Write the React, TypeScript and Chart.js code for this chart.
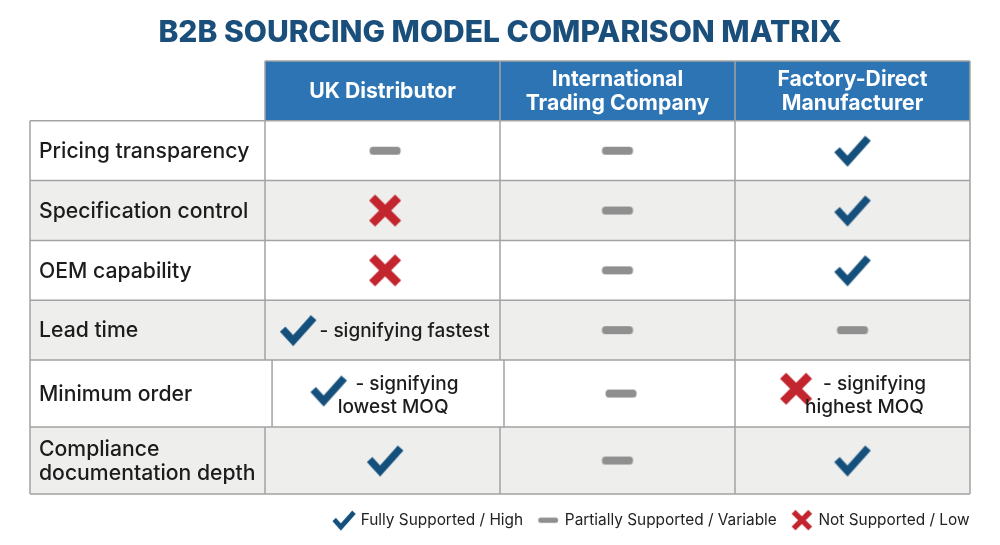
import React, { useEffect, useRef } from "react";
import { Chart, registerables } from "chart.js";

Chart.register(...registerables);

const chartTitle = "B2B SOURCING MODEL COMPARISON MATRIX";
const criteria = [
    ["Pricing transparency"],
    ["Specification control"],
    ["OEM capability"],
    ["Lead time"],
    ["Minimum order"],
    ["Compliance", "documentation depth"],
];
const suppliers = [
    ["UK Distributor"],
    ["International", "Trading Company"],
    ["Factory-Direct", "Manufacturer"],
];

const ukDistributor = ["partial", "no", "no", "yes", "yes", "yes"];
const tradingCompany = ["partial", "partial", "partial", "partial", "partial", "partial"];
const factoryDirect = ["yes", "yes", "yes", "partial", "no", "yes"];
const ratingsBySupplier = [ukDistributor, tradingCompany, factoryDirect];

const ratingKeys = ["yes", "partial", "no"];
const ratingLabels = ["Fully Supported / High", "Partially Supported / Variable", "Not Supported / Low"];

// notes that sit next to a mark: [supplier, criterion, line, text]
const cellNotes: [number, number, number, string][] = [
    [0, 3, 0, "- signifying fastest"],
    [0, 4, 0, "- signifying"],
    [0, 4, 1, "lowest MOQ"],
    [2, 4, 0, "- signifying"],
    [2, 4, 1, "highest MOQ"],
];

// ---- layout, in table units (x: 1 = one column, y: 1 = one row)
const rowEdges = [0, 1, 2, 3, 4, 5, 6.12, 7.24];
const colEdges = [0, 1, 2, 3, 4];
const minOrderColEdges = [0, 1.03, 2.017, 3, 4];
const columnShift = [0.011, 0, 0];
const markNudge: Record<string, [number, number]> = {
    "0-3": [-0.37, 0],
    "0-4": [-0.24, -0.05],
    "1-4": [0.015, 0],
    "2-4": [-0.24, -0.08],
};
const noteCentres: Record<string, number> = {
    "0-3-0": 1.594,
    "0-4-0": 1.604,
    "0-4-1": 1.545,
    "2-4-0": 3.594,
    "2-4-1": 3.551,
};
// legend keeps a trailing gap, so the plot area is wider than the table by this much
const legendGap = 16;
const sideOverhang = legendGap / 235;

const BLUE = "#2c74b3";
const NAVY = "#15507c";
const RED = "#c3252f";
const GREY = "#8f8f8f";
const LINE = "#a3a3a3";
const FONT = "Inter, sans-serif";

function makeIcon(kind: string, scale: number) {
    const size = 44 * scale;
    const c = document.createElement("canvas");
    c.width = size;
    c.height = size;
    const g = c.getContext("2d")!;
    g.translate(size / 2, size / 2);
    g.scale(scale, scale);
    if (kind === "yes") {
        g.strokeStyle = NAVY;
        g.lineWidth = 7.5;
        g.lineJoin = "miter";
        g.beginPath();
        g.moveTo(-15.5, -1);
        g.lineTo(-5, 10.5);
        g.lineTo(15.5, -12.5);
        g.stroke();
    } else if (kind === "no") {
        g.strokeStyle = RED;
        g.lineWidth = 8.5;
        g.beginPath();
        g.moveTo(-13, -13);
        g.lineTo(13, 13);
        g.moveTo(13, -13);
        g.lineTo(-13, 13);
        g.stroke();
    } else {
        g.fillStyle = GREY;
        g.beginPath();
        g.roundRect(-15.5, -4, 31, 8, 3.5);
        g.fill();
    }
    return c;
}

const tablePlugin = {
    id: "sourcingTable",
    afterLayout(chart: any) {
        // rounding in the legend can push the last item onto a second row
        chart.legend.lineWidths[0] += 0.5;
        chart.legend.top += 2.4;
    },
    beforeDatasetsDraw(chart: any) {
        const { ctx, scales } = chart;
        const X = (v: number) => scales.x.getPixelForValue(v);
        const Y = (v: number) => scales.y.getPixelForValue(v);
        ctx.save();
        // header band, first column has none
        ctx.fillStyle = BLUE;
        ctx.fillRect(X(1), Y(0), X(4) - X(1), Y(1) - Y(0));
        // body rows
        criteria.forEach((_, i) => {
            ctx.fillStyle = i % 2 ? "#eeeeed" : "#ffffff";
            ctx.fillRect(X(0), Y(rowEdges[i + 1]), X(4) - X(0), Y(rowEdges[i + 2]) - Y(rowEdges[i + 1]));
        });
        ctx.strokeStyle = LINE;
        ctx.lineWidth = 1.5;
        ctx.beginPath();
        rowEdges.forEach((r, i) => {
            ctx.moveTo(X(i === 0 ? 1 : 0), Y(r));
            ctx.lineTo(X(4), Y(r));
        });
        colEdges.forEach((c, i) => {
            if (i === 0) {
                ctx.moveTo(X(c), Y(1));
                ctx.lineTo(X(c), Y(rowEdges[7]));
                return;
            }
            // the minimum order row has its own column edges
            ctx.moveTo(X(c), Y(0));
            ctx.lineTo(X(c), Y(rowEdges[5]));
            ctx.moveTo(X(minOrderColEdges[i]), Y(rowEdges[5]));
            ctx.lineTo(X(minOrderColEdges[i]), Y(rowEdges[6]));
            ctx.moveTo(X(c), Y(rowEdges[6]));
            ctx.lineTo(X(c), Y(rowEdges[7]));
        });
        ctx.stroke();
        ctx.restore();
    },
    afterDatasetsDraw(chart: any) {
        const { ctx, scales } = chart;
        const X = (v: number) => scales.x.getPixelForValue(v);
        const Y = (v: number) => scales.y.getPixelForValue(v);
        ctx.save();
        ctx.textBaseline = "middle";

        // column headers
        ctx.textAlign = "center";
        ctx.fillStyle = "#ffffff";
        ctx.font = `700 21.2px ${FONT}`;
        suppliers.forEach((lines, i) => {
            lines.forEach((t, j) => {
                ctx.fillText(t, X(i + 1.5), Y(0.5) + 1 + (j - (lines.length - 1) / 2) * 24);
            });
        });

        // row labels
        ctx.textAlign = "left";
        ctx.fillStyle = "#1c1c1c";
        ctx.font = `500 21.2px ${FONT}`;
        criteria.forEach((lines, i) => {
            const mid = (rowEdges[i + 1] + rowEdges[i + 2]) / 2;
            lines.forEach((t, j) => {
                ctx.fillText(t, X(0) + 9, Y(mid) + 1 + (j - (lines.length - 1) / 2) * 24);
            });
        });

        // notes next to marks
        ctx.textAlign = "center";
        ctx.font = `500 19px ${FONT}`;
        cellNotes.forEach(([s, r, line, text]) => {
            const mid = (rowEdges[r + 1] + rowEdges[r + 2]) / 2;
            const lineCount = cellNotes.filter((n) => n[0] === s && n[1] === r).length;
            const lift = lineCount > 1 ? 2 : 1;
            ctx.fillText(text, X(noteCentres[`${s}-${r}-${line}`]), Y(mid) + lift + (line - (lineCount - 1) / 2) * 23);
        });
        ctx.restore();
    },
};

export default function App() {
    const canvasRef = useRef<HTMLCanvasElement | null>(null);

    useEffect(() => {
        const canvas = canvasRef.current;
        if (!canvas) return;

        const largeIcons = ratingKeys.map((k) => makeIcon(k, 1));
        const smallIcons = ratingKeys.map((k) => makeIcon(k, 0.64));

        const datasets = ratingKeys.map((key, k) => {
            const points: { x: number; y: number }[] = [];
            ratingsBySupplier.forEach((ratings, s) => {
                ratings.forEach((rating, r) => {
                    if (rating !== key) return;
                    const nudge = markNudge[`${s}-${r}`] || [0, 0];
                    points.push({
                        x: s + 1.5 + columnShift[s] + nudge[0],
                        y: (rowEdges[r + 1] + rowEdges[r + 2]) / 2 + nudge[1],
                    });
                });
            });
            return {
                label: ratingLabels[k],
                data: points,
                pointStyle: largeIcons[k],
                showLine: false,
                clip: false as const,
            };
        });

        const chart = new Chart(canvas, {
            type: "scatter",
            data: { datasets: datasets as any },
            plugins: [tablePlugin],
            options: {
                responsive: false,
                animation: false,
                events: [],
                layout: { padding: { left: 30 - legendGap, right: 30 - legendGap, top: 0, bottom: 9.6 } },
                scales: {
                    x: { type: "linear", min: -sideOverhang, max: 4 + sideOverhang, display: false },
                    y: { type: "linear", min: 0, max: 7.24, reverse: true, display: false },
                },
                plugins: {
                    tooltip: { enabled: false },
                    title: {
                        display: true,
                        text: chartTitle,
                        color: "#1a4f7c",
                        font: { family: FONT, size: 30, weight: 800, lineHeight: 1.2 },
                        padding: { top: 15, bottom: 10 },
                    },
                    legend: {
                        position: "bottom",
                        align: "end",
                        labels: {
                            usePointStyle: true,
                            pointStyleWidth: 18,
                            padding: legendGap,
                            color: "#222222",
                            font: { family: FONT, size: 15.4, weight: 400 },
                            generateLabels: () =>
                                ratingLabels.map((text, i) => ({
                                    text,
                                    pointStyle: smallIcons[i],
                                    datasetIndex: i,
                                    hidden: false,
                                    lineWidth: 0,
                                    fontColor: "#222222",
                                })),
                        },
                    },
                },
            },
        } as any);

        return () => chart.destroy();
    }, []);

    return (
        <div style={{ position: "absolute", left: 0, top: 0, width: 1000, height: 545, background: "#ffffff" }}>
            <canvas ref={canvasRef} width={1000} height={545} style={{ display: "block" }} />
        </div>
    );
}
